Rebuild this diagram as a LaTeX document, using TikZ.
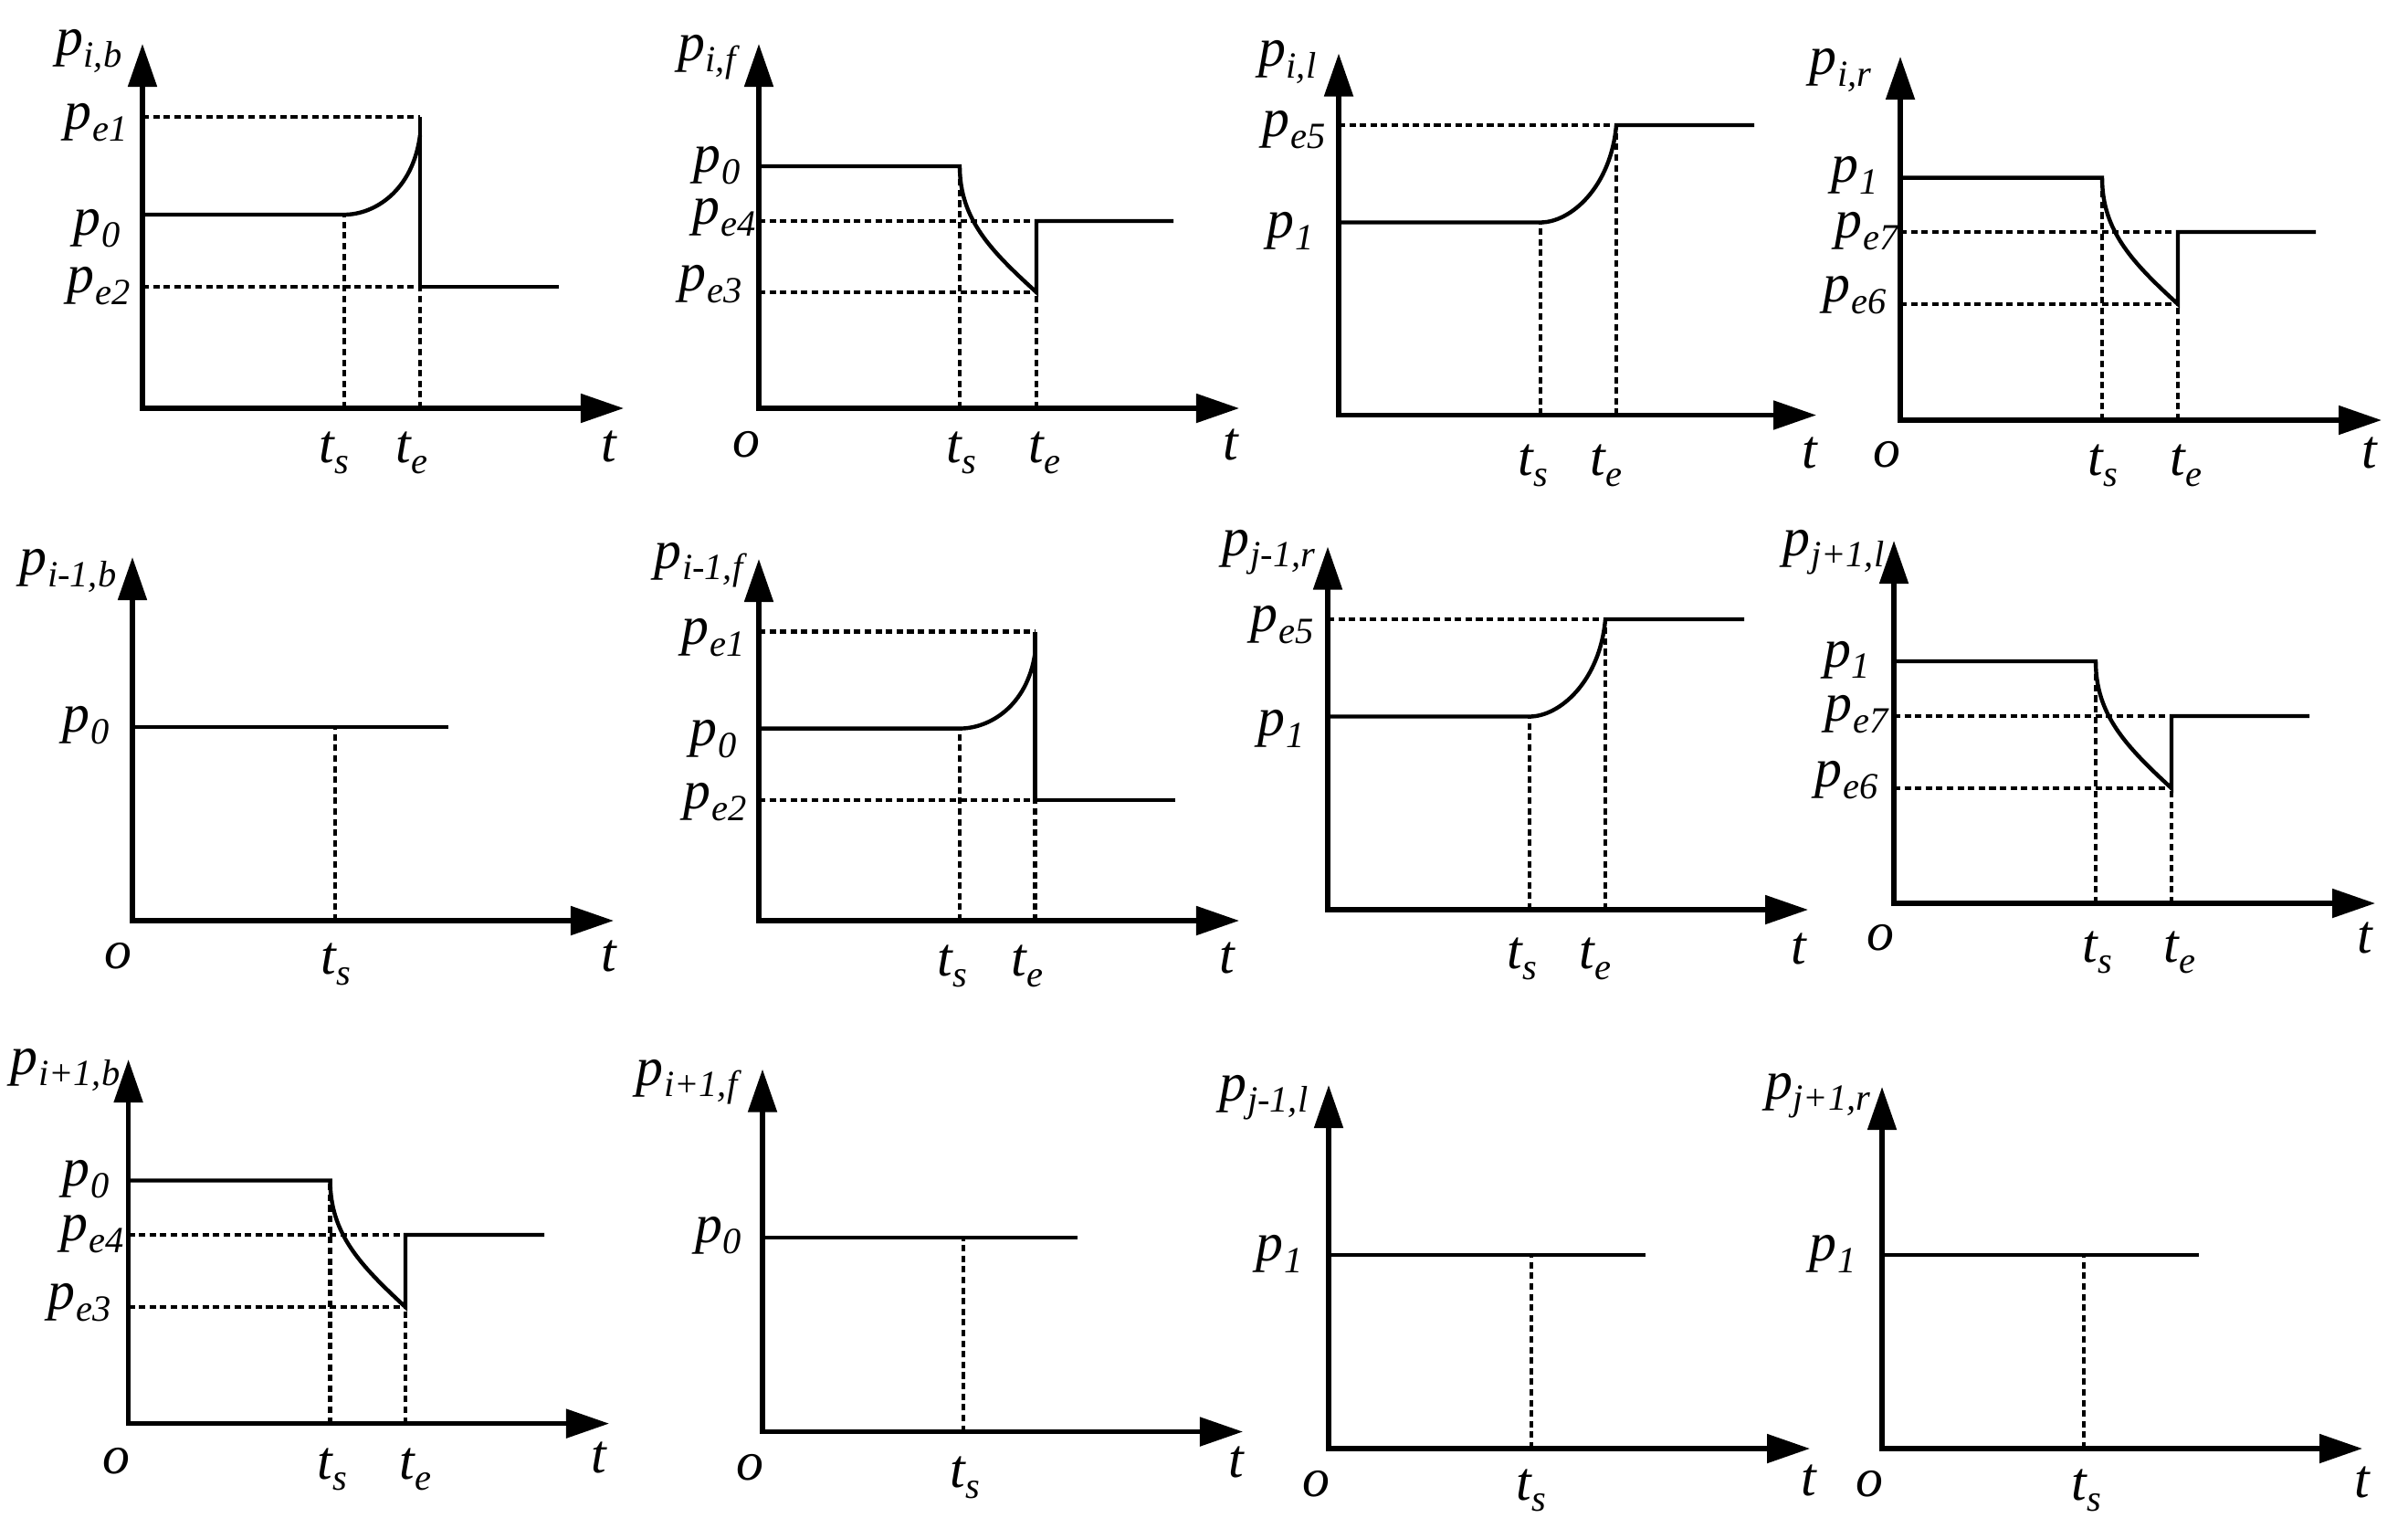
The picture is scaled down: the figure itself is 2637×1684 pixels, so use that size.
\documentclass[tikz,border=0pt]{standalone}
\usepackage{fontspec}
\setmainfont{LiberationSerif-Regular.ttf}[ItalicFont=LiberationSerif-Italic.ttf]
\usetikzlibrary{arrows.meta}
\newcommand\PSub[2]{#1\kern0.2pt\raisebox{-3.5pt}{\fontsize{11.5}{11.5}\selectfont #2}}
\begin{document}
\begin{tikzpicture}[x=0.01cm,y=-0.01cm,
  axisline/.style={line width=1.45pt,{Triangle[length=4.7mm,width=3.1mm]}-{Triangle[length=4.7mm,width=3.1mm]}},
  sig/.style={line width=1.25pt,line join=miter},
  guide/.style={line width=1.25pt,dash pattern=on 2pt off 1.3pt},
  lab/.style={inner sep=0pt,font=\fontsize{17}{17}\selectfont\itshape},
  lw/.style={lab,anchor=west},
  le/.style={lab,anchor=east}]
\useasboundingbox (0,0) rectangle (2637,1684);
\fill[white] (0,0) rectangle (2637,1684);

% ---------- Panel 1: p_{i,b}
\draw[axisline] (156,48) -- (156,447) -- (683,447);
\draw[guide] (156,128) -- (460,128);
\draw[guide] (156,314) -- (460,314);
\draw[guide] (377,447) -- (377,235);
\draw[guide] (460,447) -- (460,314);
\draw[sig] (156,235) -- (377,235) .. controls (410,235) and (452,209) .. (460,148);
\draw[sig] (460,128) -- (460,314) -- (612,314);
\node[le] (a1) at (134,56) {\PSub{p}{i,b}};
\node[le] (a2) at (140,134) {\PSub{p}{e1}};
\node[le] (a3) at (132,250) {\PSub{p}{0}};
\node[le] (a4) at (143,313) {\PSub{p}{e2}};
\node[lab] (a5) at (366,496) {\PSub{t}{s}};
\node[lab] (a6) at (451,496) {\PSub{t}{e}};
\node[lab] (a7) at (667,489) {t};

% ---------- Panel 2: p_{i,f}
\draw[axisline] (831,48) -- (831,447) -- (1357,447);
\draw[guide] (831,242) -- (1135,242);
\draw[guide] (831,320) -- (1135,320);
\draw[guide] (1051,447) -- (1051,182);
\draw[guide] (1135,447) -- (1135,320);
\draw[sig] (831,182) -- (1051,182) .. controls (1051,240) and (1085,274.5) .. (1135,320) -- (1135,242) -- (1285,242);
\node[le] (b1) at (806,63) {\PSub{p}{i,f}};
\node[le] (b2) at (811,181) {\PSub{p}{0}};
\node[le] (b3) at (828,238) {\PSub{p}{e4}};
\node[le] (b4) at (813,311) {\PSub{p}{e3}};
\node[lab] (b5) at (817,487) {o};
\node[lab] (b6) at (1053,496) {\PSub{t}{s}};
\node[lab] (b7) at (1144,496) {\PSub{t}{e}};
\node[lab] (b8) at (1348,487) {t};

% ---------- Panel 3: p_{i,l}
\draw[axisline] (1466,58.5) -- (1466,454.5) -- (1989,454.5);
\draw[guide] (1466,137) -- (1770,137);
\draw[guide] (1687,454.5) -- (1687,243.5);
\draw[guide] (1770,454.5) -- (1770,137);
\draw[sig] (1466,243.5) -- (1687,243.5) .. controls (1720,243.5) and (1764,205) .. (1770,137) -- (1921,137);
\node[le] (c1) at (1442,68) {\PSub{p}{i,l}};
\node[le] (c2) at (1452,142) {\PSub{p}{e5}};
\node[le] (c3) at (1439,253) {\PSub{p}{1}};
\node[lab] (c4) at (1679,510) {\PSub{t}{s}};
\node[lab] (c5) at (1759,510) {\PSub{t}{e}};
\node[lab] (c6) at (1982,496) {t};

% ---------- Panel 4: p_{i,r}
\draw[axisline] (2081,62) -- (2081,460) -- (2608,460);
\draw[guide] (2081,254) -- (2385,254);
\draw[guide] (2081,333) -- (2385,333);
\draw[guide] (2302,460) -- (2302,194.6);
\draw[guide] (2385,460) -- (2385,333);
\draw[sig] (2081,194.6) -- (2302,194.6) .. controls (2302,252.7) and (2335,287.3) .. (2385,333) -- (2385,254) -- (2536,254);
\node[le] (d1) at (2050,77) {\PSub{p}{i,r}};
\node[le] (d2) at (2057,192) {\PSub{p}{1}};
\node[le] (d3) at (2079,253) {\PSub{p}{e7}};
\node[le] (d4) at (2066,323) {\PSub{p}{e6}};
\node[lab] (d5) at (2066,498) {o};
\node[lab] (d6) at (2303,510) {\PSub{t}{s}};
\node[lab] (d7) at (2394,510) {\PSub{t}{e}};
\node[lab] (d8) at (2595,496) {t};

% ---------- Panel 5: p_{i-1,b}
\draw[axisline] (145,610) -- (145,1008) -- (672,1008);
\draw[guide] (367,1008) -- (367,796);
\draw[sig] (145,796) -- (491,796);
\node[le] (e1) at (128,625) {\PSub{p}{i-1,b}};
\node[le] (e2) at (120.5,794) {\PSub{p}{0}};
\node[lab] (e3) at (129,1047) {o};
\node[lab] (e4) at (368,1056) {\PSub{t}{s}};
\node[lab] (e5) at (667,1047) {t};

% ---------- Panel 6: p_{i-1,f}
\draw[axisline] (831,612) -- (831,1008) -- (1357,1008);
\draw[guide] (831,691.5) -- (1133.5,691.5);
\draw[guide] (831,876) -- (1133.5,876);
\draw[guide] (1051,1008) -- (1051,797.6);
\draw[guide] (1133.5,1008) -- (1133.5,876);
\draw[sig] (831,797.6) -- (1051,797.6) .. controls (1084,797.6) and (1125,772.8) .. (1133.5,715);
\draw[sig] (1133.5,691.5) -- (1133.5,876) -- (1287,876);
\node[le] (f1) at (814,619) {\PSub{p}{i-1,f}};
\node[le] (f2) at (816,698) {\PSub{p}{e1}};
\node[le] (f3) at (807,809) {\PSub{p}{0}};
\node[le] (f4) at (818,878) {\PSub{p}{e2}};
\node[lab] (f5) at (1043,1058) {\PSub{t}{s}};
\node[lab] (f6) at (1125,1058) {\PSub{t}{e}};
\node[lab] (f7) at (1344,1049) {t};

% ---------- Panel 7: p_{j-1,r}
\draw[axisline] (1454,598.5) -- (1454,996) -- (1980,996);
\draw[guide] (1454,678) -- (1758,678);
\draw[guide] (1675,996) -- (1675,784.5);
\draw[guide] (1758,996) -- (1758,678);
\draw[sig] (1454,784.5) -- (1675,784.5) .. controls (1708,784.5) and (1752,746) .. (1758,678) -- (1910,678);
\node[le] (g1) at (1441,605) {\PSub{p}{j-1,r}};
\node[le] (g2) at (1439,684) {\PSub{p}{e5}};
\node[le] (g3) at (1429,798) {\PSub{p}{1}};
\node[lab] (g4) at (1667,1050) {\PSub{t}{s}};
\node[lab] (g5) at (1747,1050) {\PSub{t}{e}};
\node[lab] (g6) at (1970,1039) {t};

% ---------- Panel 8: p_{j+1,l}
\draw[axisline] (2074,592) -- (2074,989) -- (2601,989);
\draw[guide] (2074,784) -- (2378,784);
\draw[guide] (2074,863) -- (2378,863);
\draw[guide] (2295,989) -- (2295,724);
\draw[guide] (2378,989) -- (2378,863);
\draw[sig] (2074,724) -- (2295,724) .. controls (2295,782.4) and (2328,817) .. (2378,863) -- (2378,784) -- (2529,784);
\node[le] (h1) at (2064,605) {\PSub{p}{j+1,l}};
\node[le] (h2) at (2048.5,722.5) {\PSub{p}{1}};
\node[le] (h3) at (2068,782) {\PSub{p}{e7}};
\node[le] (h4) at (2057,854) {\PSub{p}{e6}};
\node[lab] (h5) at (2059,1027) {o};
\node[lab] (h6) at (2297,1043) {\PSub{t}{s}};
\node[lab] (h7) at (2387,1043) {\PSub{t}{e}};
\node[lab] (h8) at (2590,1027) {t};

% ---------- Panel 9: p_{i+1,b}
\draw[axisline] (140.6,1160) -- (140.6,1558.6) -- (667,1558.6);
\draw[guide] (140.6,1352) -- (444,1352);
\draw[guide] (140.6,1431) -- (444,1431);
\draw[guide] (361.6,1558.6) -- (361.6,1292.5);
\draw[guide] (444,1558.6) -- (444,1431);
\draw[sig] (140.6,1292.5) -- (361.6,1292.5) .. controls (361.6,1350.7) and (394.6,1385.3) .. (444,1431) -- (444,1352) -- (596,1352);
\node[le] (k1) at (132,1171.5) {\PSub{p}{i+1,b}};
\node[le] (k2) at (120.5,1291) {\PSub{p}{0}};
\node[le] (k3) at (136,1351) {\PSub{p}{e4}};
\node[le] (k4) at (122,1426) {\PSub{p}{e3}};
\node[lab] (k5) at (127,1600) {o};
\node[lab] (k6) at (364,1609) {\PSub{t}{s}};
\node[lab] (k7) at (455,1609) {\PSub{t}{e}};
\node[lab] (k8) at (656,1596) {t};

% ---------- Panel 10: p_{i+1,f}
\draw[axisline] (835,1170.6) -- (835,1567.5) -- (1361,1567.5);
\draw[guide] (1055,1567.5) -- (1055,1354.7);
\draw[sig] (835,1354.7) -- (1180,1354.7);
\node[le] (m1) at (808,1185) {\PSub{p}{i+1,f}};
\node[le] (m2) at (812.6,1352.6) {\PSub{p}{0}};
\node[lab] (m3) at (821,1607) {o};
\node[lab] (m4) at (1057,1617.6) {\PSub{t}{s}};
\node[lab] (m5) at (1354,1601) {t};

% ---------- Panel 11: p_{j-1,l}
\draw[axisline] (1455,1188) -- (1455,1586) -- (1982,1586);
\draw[guide] (1677,1586) -- (1677,1374);
\draw[sig] (1455,1374) -- (1802,1374);
\node[le] (n1) at (1433,1202) {\PSub{p}{j-1,l}};
\node[le] (n2) at (1427,1373) {\PSub{p}{1}};
\node[lab] (n3) at (1441,1625) {o};
\node[lab] (n4) at (1677,1632) {\PSub{t}{s}};
\node[lab] (n5) at (1981,1621) {t};

% ---------- Panel 12: p_{j+1,r}
\draw[axisline] (2061,1190) -- (2061,1586) -- (2587,1586);
\draw[guide] (2282,1586) -- (2282,1374);
\draw[sig] (2061,1374) -- (2407.6,1374);
\node[le] (q1) at (2049,1200) {\PSub{p}{j+1,r}};
\node[le] (q2) at (2033,1373) {\PSub{p}{1}};
\node[lab] (q3) at (2047,1625) {o};
\node[lab] (q4) at (2284.5,1632) {\PSub{t}{s}};
\node[lab] (q5) at (2587,1623) {t};
\end{tikzpicture}
\end{document}
